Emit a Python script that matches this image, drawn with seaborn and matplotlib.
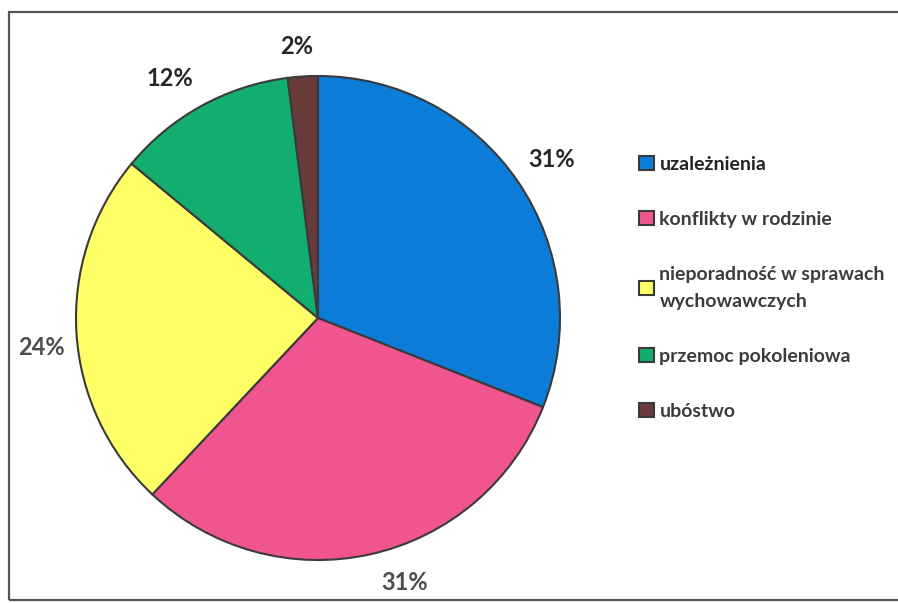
import numpy as np
import matplotlib
matplotlib.use('Agg')
import matplotlib.pyplot as plt
import seaborn as sns
from matplotlib.patches import Rectangle

sns.set_theme(style='white')
plt.rcParams['font.family'] = ['Lato', 'DejaVu Sans']

categories = ['uzależnienia', 'konflikty w rodzinie',
              'nieporadność w sprawach\nwychowawczych',
              'przemoc pokoleniowa', 'ubóstwo']
values = [31, 31, 24, 12, 2]
colors = ['#0B7DD8', '#F0558F', '#FFFF66', '#12AE6E', '#6A3B3B']

# label placement tweaks (Excel puts labels slightly off the wedge middle)
label_dist = [1.165, 1.15, 1.15, 1.165, 1.125]
label_shift = [0, 5.5, 2.5, 3, 1]
label_colors = ['#262626', '#4d4d4d', '#4d4d4d', '#262626', '#262626']

W, H = 898, 603
fig = plt.figure(figsize=(W / 100, H / 100), dpi=100)

# pie centre and radius in pixels
cx, cy, r = 318, 318, 242
ax = fig.add_axes([(cx - r) / W, (H - cy - r) / H, 2 * r / W, 2 * r / H])

wedges, _, autotexts = ax.pie(
    values, colors=colors, startangle=90, counterclock=False,
    autopct='%1.0f%%', pctdistance=1.16,
    wedgeprops=dict(edgecolor='#3a3a3a', linewidth=1.5),
    textprops=dict(fontsize=17, fontweight='bold'))
for w, t, d, s, c in zip(wedges, autotexts, label_dist, label_shift, label_colors):
    ang = np.deg2rad((w.theta1 + w.theta2) / 2 + s)
    t.set_position((d * np.cos(ang), d * np.sin(ang)))
    t.set_color(c)
ax.set_xlim(-1, 1)
ax.set_ylim(-1, 1)
ax.set_aspect('equal')
ax.axis('off')

leg = fig.legend(wedges, categories, loc='upper left',
                 bbox_to_anchor=(639 / W, 1 - 156 / H),
                 frameon=False, borderpad=0, borderaxespad=0,
                 handlelength=0.77, handleheight=0.77,
                 handletextpad=0.28, labelspacing=1.95,
                 prop=dict(size=14, weight='bold'))
for t in leg.get_texts():
    t.set_color('#3c3c3c')
    t.set_linespacing(1.7)
leg.get_texts()[0].set_color('#222222')
for h in leg.legend_handles:
    h.set_edgecolor('#3a3a3a')
    h.set_linewidth(1.5)

# outer frame (right side runs off the image)
fig.patches.append(Rectangle((9 / W, 3 / H), 1.0, 588 / H,
                             transform=fig.transFigure, fill=False,
                             edgecolor='#555555', linewidth=1.6))

fig.savefig('out.png', dpi=100)
